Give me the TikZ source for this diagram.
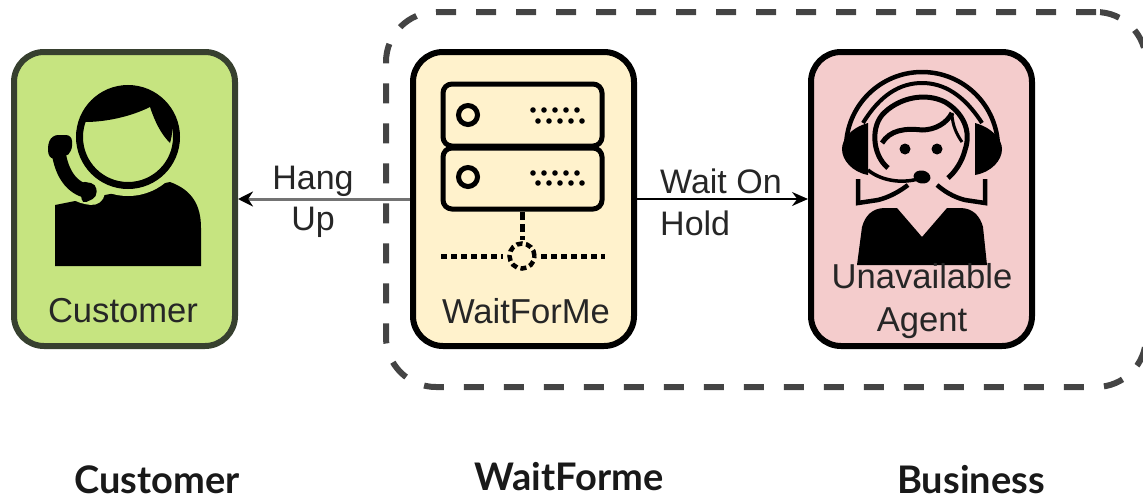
\documentclass[tikz,border=0pt]{standalone}
\usepackage{fontspec}
\usetikzlibrary{arrows.meta,positioning}
\setmainfont{Liberation Sans}
\newfontfamily\titlefont{Lato}
\definecolor{customerfill}{HTML}{C6E480}
\definecolor{waitfill}{HTML}{FFF2CC}
\definecolor{agentfill}{HTML}{F4CCCC}
\definecolor{customerline}{HTML}{37402F}
\definecolor{framegray}{HTML}{444444}
\tikzset{
  unit box/.style={draw=black, line width=6pt, rounded corners=30pt, minimum width=221pt, minimum height=294pt, inner sep=0pt},
  box text/.style={font=\fontsize{34.6}{43}\selectfont, align=center, text=black!85, inner sep=0pt},
  edge text/.style={font=\fontsize{34}{40}\selectfont, inner sep=0pt, text=black!85},
  title text/.style={font=\titlefont\bfseries\fontsize{38}{44}\selectfont, inner sep=0pt, anchor=base, text=black!90},
  rack/.style={draw=black, line width=5pt, rounded corners=9pt},
  dotted net/.style={draw=black, line width=5pt, dash pattern=on 6pt off 4pt},
  icon line/.style={draw=black, line width=4.5pt}
}

\begin{document}
\begin{tikzpicture}[x=1pt, y=-1pt]
  \useasboundingbox (0,0) rectangle (1143,501);

  \node[draw=framegray, line width=6pt, rounded corners=50pt, dash pattern=on 20pt off 20pt, minimum width=760pt, minimum height=375pt] (business) at (766,199.5) {};

  \node[unit box, draw=customerline, fill=customerfill] (customer) at (124.5,199) {};
  \node[unit box, fill=waitfill, right = 172pt of customer] (waitforme) {};
  \node[unit box, fill=agentfill, right = 171pt of waitforme] (agent) {};

  \draw[draw=black!55, line width=3pt, -{Stealth[black, length=15pt, width=15pt]}] (waitforme.west) -- (customer.east);
  \draw[line width=2pt, -{Stealth[length=16pt, width=14pt]}] (waitforme.east) -- (agent.west);

  % caller
  \fill (55,266) -- (55,205) -- (170,182) .. controls (192,190) and (201,205) .. (201,228) -- (201,266) -- cycle;
  \fill[customerfill] (128,137) circle (59pt);
  \draw[customerfill, line width=26pt, line cap=round] (58,147) .. controls (60,170) and (70,190) .. (92,192);
  \draw[line width=14pt] (58,147) .. controls (60,170) and (70,190) .. (92,192);
  \fill[rounded corners=6pt] (47,147) -- (52,135) -- (72,135) -- (72,152) -- (64,157) -- (50,160) -- cycle;
  \fill[rounded corners=5pt] (80,181) -- (96,184) -- (97,197) -- (82,204) -- cycle;
  \draw[line width=7pt] (128,137) circle (48.5pt);
  \fill (85,122) .. controls (105,122) and (130,117) .. (150,107) .. controls (155,122) and (161,134) .. (170,143) .. controls (180,110) and (155,86) .. (128,87) .. controls (103,87) and (84,100) .. (85,122) -- cycle;

  % server
  \draw[rack] (443,84) rectangle (602,146);
  \draw[rack] (443,148) rectangle (602,209);
  \foreach \ledy in {115,177}
    \draw[line width=5pt] (468,\ledy) circle (9.5pt);
  \foreach \rowy/\shift in {110/0,121/5,173/0,183/5}
    \foreach \dotx in {0,11,22,33,44}
      \fill (533+\shift+\dotx,\rowy) circle (2.8pt);
  \draw[dotted net, dash pattern=on 8pt off 4pt] (522,212) -- (522,240);
  \draw[dotted net] (441,256) -- (503,256);
  \draw[dotted net] (541,256) -- (605,256);
  \draw[line width=4.5pt, dash pattern=on 6pt off 3.5pt] (522,256) circle (12.5pt);

  % agent
  \draw[icon line] (846,148) arc[start angle=180, end angle=0, radius=76pt];
  \draw[line width=4pt] (863,123) .. controls (880,95) and (900,83) .. (922,83) .. controls (944,83) and (964,95) .. (982,123);
  \fill (868,123) .. controls (850,128) and (842,140) .. (842,149) .. controls (842,160) and (852,172) .. (868,175) -- cycle;
  \fill (975,123) .. controls (993,128) and (1002,140) .. (1002,149) .. controls (1002,160) and (992,172) .. (975,175) -- cycle;
  \draw[line width=5pt] (888,168) .. controls (872,155) and (870,125) .. (885,112) .. controls (900,98) and (925,92) .. (945,102) .. controls (962,112) and (972,130) .. (965,150) .. controls (962,162) and (955,172) .. (948,178);
  \draw[line width=5pt] (882,143) .. controls (890,130) and (905,128) .. (922,130) .. controls (935,130) and (947,123) .. (952,113);
  \draw[line width=3pt] (952,113) .. controls (952,125) and (957,135) .. (962,142);
  \foreach \eyex in {905,937}
    \fill (\eyex,149) circle (5.5pt);
  \draw[line width=3.5pt] (868,170) .. controls (880,180) and (900,184) .. (918,179);
  \fill[rotate around={-10:(922,177)}] (922,177) ellipse (8.5pt and 6.5pt);
  \draw[icon line] (858,179) -- (858,203) -- (878,200) .. controls (890,197) and (900,191) .. (908,185);
  \draw[icon line] (985,179) -- (985,203) -- (965,200) .. controls (953,197) and (944,191) .. (937,185);
  \fill (857,265) -- (862,227) .. controls (865,216) and (872,208) .. (885,208) -- (897,208) -- (922,237) -- (947,208) -- (960,208) .. controls (973,208) and (980,216) .. (983,227) -- (987,265) -- cycle;

  \node[box text] (customerlabel) at (123,311) {Customer};
  \node[box text] (waitlabel) at (526,311) {WaitForMe};
  \node[box text] (agentlabel) at (922,301) {Unavailable\\Agent};

  \node[edge text] (hang) at (313,181) {Hang};
  \node[edge text] (up) at (313,222) {Up};
  \node[edge text, anchor=west] (waiton) at (660,181) {Wait On};
  \node[edge text, anchor=west] (hold) at (660,223) {Hold};

  \node[title text] (customertitle) at (157,493) {Customer};
  \node[title text] (waittitle) at (569,490) {WaitForme};
  \node[title text] (businesstitle) at (971,493) {Business};
\end{tikzpicture}
\end{document}
